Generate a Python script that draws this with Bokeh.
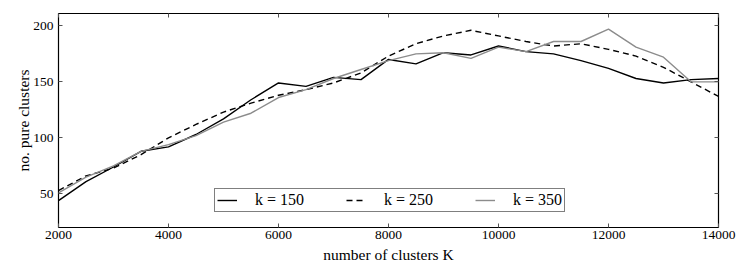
from bokeh.plotting import figure
from bokeh.models import Range1d, LinearAxis, FixedTicker, Legend, LegendItem, CustomJSTickFormatter
from bokeh.embed import file_html
from bokeh.resources import INLINE

K = [2000, 2500, 3000, 3500, 4000, 4500, 5000, 5500, 6000, 6500, 7000, 7500,
     8000, 8500, 9000, 9500, 10000, 10500, 11000, 11500, 12000, 12500, 13000, 13500, 14000]
k150 = [44, 61, 74, 88, 92, 103, 117, 134, 149, 146, 154, 152,
        170, 166, 176, 174, 182, 177, 175, 169, 162, 153, 149, 152, 153]
k250 = [53, 66, 73, 85, 100, 112, 123, 131, 138, 143, 149, 158,
        173, 184, 191, 196, 191, 186, 182, 184, 179, 173, 163, 150, 137]
k350 = [51, 65, 75, 88, 94, 102, 114, 122, 136, 143, 153, 161,
        169, 175, 176, 171, 181, 177, 186, 186, 197, 181, 172, 150, 150]
x_ticks = [2000, 4000, 6000, 8000, 10000, 12000, 14000]
y_ticks = [50, 100, 150, 200]

FONT = "Liberation Serif"

p = figure(width=747, height=280, output_backend="svg", toolbar_location=None,
           x_range=Range1d(2000, 14000), y_range=Range1d(20, 211),
           min_border_left=58, min_border_right=29, min_border_top=13, min_border_bottom=53)
p.outline_line_color = "black"
p.outline_line_width = 1.2
p.grid.visible = False

r1 = p.line(K, k150, line_color="black", line_width=1.4)
r2 = p.line(K, k250, line_color="black", line_width=1.4, line_dash="6 4")
r3 = p.line(K, k350, line_color="#8c8c8c", line_width=1.4)

for ax in (p.xaxis[0], p.yaxis[0]):
    ax.major_label_text_font = FONT
    ax.major_label_text_font_size = "13.5px"
    ax.major_label_text_color = "black"
    ax.axis_label_text_font = FONT
    ax.axis_label_text_font_style = "normal"
    ax.axis_label_text_font_size = "15.5px"
    ax.axis_label_text_color = "black"
    ax.major_tick_in = 4
    ax.major_tick_out = 0
    ax.minor_tick_in = 0
    ax.minor_tick_out = 0
    ax.axis_line_color = None
    ax.major_tick_line_color = "#555555"

p.xaxis.ticker = FixedTicker(ticks=x_ticks)
p.yaxis.ticker = FixedTicker(ticks=y_ticks)
p.xaxis.axis_label = "number of clusters K"
p.yaxis.axis_label = "no. pure clusters"
p.xaxis.major_label_standoff = 3
p.yaxis.major_label_standoff = 5
p.xaxis.axis_label_standoff = 4
p.yaxis.axis_label_standoff = -2

blank = CustomJSTickFormatter(code="return ''")
top = LinearAxis(ticker=FixedTicker(ticks=x_ticks), formatter=blank,
                 major_tick_in=4, major_tick_out=0, minor_tick_in=0, minor_tick_out=0,
                 axis_line_color=None, major_tick_line_color="#555555",
                 major_label_standoff=0)
right = LinearAxis(ticker=FixedTicker(ticks=y_ticks), formatter=blank,
                   major_tick_in=4, major_tick_out=0, minor_tick_in=0, minor_tick_out=0,
                   axis_line_color=None, major_tick_line_color="#555555",
                   major_label_standoff=0)
p.add_layout(top, "above")
p.add_layout(right, "right")

legend = Legend(items=[LegendItem(label="k = 150", renderers=[r1]),
                       LegendItem(label="k = 250", renderers=[r2]),
                       LegendItem(label="k = 350", renderers=[r3])],
                orientation="horizontal", location=(156, 15))
legend.label_text_font = FONT
legend.label_text_font_size = "16px"
legend.label_text_color = "black"
legend.border_line_color = "black"
legend.border_line_width = 1.2
legend.background_fill_alpha = 1
legend.glyph_width = 20
legend.glyph_height = 8
legend.label_standoff = 18
legend.spacing = 42
legend.padding = 2
legend.margin = 0
legend.label_height = 8
p.add_layout(legend, "center")

open("out.html", "w").write(file_html(p, INLINE))
